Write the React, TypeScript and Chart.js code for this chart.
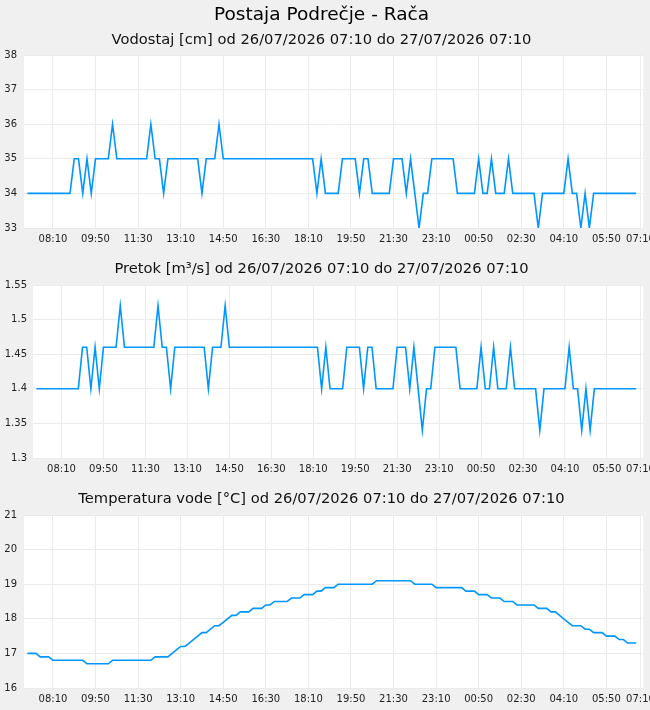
import React, { useEffect, useRef } from 'react';
import { Chart, registerables } from 'chart.js';

Chart.register(...registerables);

const FONT = '"DejaVu Sans", sans-serif';
const MAIN_TITLE = 'Postaja Podrečje - Rača';
const TITLE_LEVEL = 'Vodostaj [cm] od 26/07/2026 07:10 do 27/07/2026 07:10';
const TITLE_FLOW = 'Pretok [m³/s] od 26/07/2026 07:10 do 27/07/2026 07:10';
const TITLE_TEMP = 'Temperatura vode [°C] od 26/07/2026 07:10 do 27/07/2026 07:10';

// sample interval in minutes (samples start at 26/07/2026 07:10)
const STEP_MIN = 10;

// x-axis ticks: minutes after 07:10 and their labels
const xTickMinutes = [60, 160, 260, 360, 460, 560, 660, 760, 860, 960, 1060, 1160, 1260, 1360, 1440];
const xTickLabels = ['08:10', '09:50', '11:30', '13:10', '14:50', '16:30', '18:10', '19:50', '21:30', '23:10', '00:50', '02:30', '04:10', '05:50', '07:10'];

// Vodostaj [cm]
const level = [
  34, 34, 34, 34, 34, 34, 34, 34, 34, 34, 34,
  35, 35, 34, 35, 34,
  35, 35, 35, 35,
  36,
  35, 35, 35, 35, 35, 35, 35, 35,
  36, 35, 35, 34,
  35, 35, 35, 35, 35, 35, 35, 35,
  34, 35, 35, 35, 36,
  35, 35, 35, 35, 35, 35, 35, 35, 35, 35, 35, 35, 35, 35, 35, 35, 35, 35, 35, 35, 35, 35,
  34, 35, 34, 34, 34, 34,
  35, 35, 35, 35, 34, 35, 35,
  34, 34, 34, 34, 34,
  35, 35, 35, 34, 35, 34, 33, 34, 34,
  35, 35, 35, 35, 35, 35,
  34, 34, 34, 34, 34,
  35, 34, 34, 35, 34, 34, 34, 35,
  34, 34, 34, 34, 34, 34,
  33, 34, 34, 34, 34, 34, 34,
  35, 34, 34, 33, 34, 33,
  34, 34, 34, 34, 34, 34, 34, 34, 34, 34, 34,
];

// Pretok [m3/s]
const flow = [
  1.40, 1.40, 1.40, 1.40, 1.40, 1.40, 1.40, 1.40, 1.40, 1.40, 1.40,
  1.46, 1.46, 1.40, 1.46, 1.40,
  1.46, 1.46, 1.46, 1.46,
  1.52,
  1.46, 1.46, 1.46, 1.46, 1.46, 1.46, 1.46, 1.46,
  1.52, 1.46, 1.46, 1.40,
  1.46, 1.46, 1.46, 1.46, 1.46, 1.46, 1.46, 1.46,
  1.40, 1.46, 1.46, 1.46, 1.52,
  1.46, 1.46, 1.46, 1.46, 1.46, 1.46, 1.46, 1.46, 1.46, 1.46, 1.46, 1.46, 1.46, 1.46, 1.46, 1.46, 1.46, 1.46, 1.46, 1.46, 1.46, 1.46,
  1.40, 1.46, 1.40, 1.40, 1.40, 1.40,
  1.46, 1.46, 1.46, 1.46, 1.40, 1.46, 1.46,
  1.40, 1.40, 1.40, 1.40, 1.40,
  1.46, 1.46, 1.46, 1.40, 1.46, 1.40, 1.34, 1.40, 1.40,
  1.46, 1.46, 1.46, 1.46, 1.46, 1.46,
  1.40, 1.40, 1.40, 1.40, 1.40,
  1.46, 1.40, 1.40, 1.46, 1.40, 1.40, 1.40, 1.46,
  1.40, 1.40, 1.40, 1.40, 1.40, 1.40,
  1.34, 1.40, 1.40, 1.40, 1.40, 1.40, 1.40,
  1.46, 1.40, 1.40, 1.34, 1.40, 1.34,
  1.40, 1.40, 1.40, 1.40, 1.40, 1.40, 1.40, 1.40, 1.40, 1.40, 1.40,
];

// Temperatura vode [°C]
const temperature = [
  17.0, 17.0, 17.0,
  16.9, 16.9, 16.9,
  16.8, 16.8, 16.8, 16.8, 16.8, 16.8, 16.8, 16.8,
  16.7, 16.7, 16.7, 16.7, 16.7, 16.7,
  16.8, 16.8, 16.8, 16.8, 16.8, 16.8, 16.8, 16.8, 16.8, 16.8,
  16.9, 16.9, 16.9, 16.9,
  17.0, 17.1, 17.2, 17.2, 17.3, 17.4, 17.5, 17.6, 17.6, 17.7, 17.8, 17.8, 17.9, 18.0,
  18.1, 18.1,
  18.2, 18.2, 18.2,
  18.3, 18.3, 18.3,
  18.4, 18.4,
  18.5, 18.5, 18.5, 18.5,
  18.6, 18.6, 18.6,
  18.7, 18.7, 18.7,
  18.8, 18.8,
  18.9, 18.9, 18.9,
  19.0, 19.0, 19.0, 19.0, 19.0, 19.0, 19.0, 19.0, 19.0,
  19.1, 19.1, 19.1, 19.1, 19.1, 19.1, 19.1, 19.1, 19.1,
  19.0, 19.0, 19.0, 19.0, 19.0,
  18.9, 18.9, 18.9, 18.9, 18.9, 18.9, 18.9,
  18.8, 18.8, 18.8,
  18.7, 18.7, 18.7,
  18.6, 18.6, 18.6,
  18.5, 18.5, 18.5,
  18.4, 18.4, 18.4, 18.4, 18.4,
  18.3, 18.3, 18.3,
  18.2, 18.2,
  18.1, 18.0, 17.9,
  17.8, 17.8, 17.8,
  17.7, 17.7,
  17.6, 17.6, 17.6,
  17.5, 17.5, 17.5,
  17.4, 17.4,
  17.3, 17.3, 17.3,
];

const bgPlugin = {
  id: 'plotBg',
  beforeDraw(chart: any) {
    const { ctx, chartArea } = chart;
    ctx.save();
    ctx.fillStyle = '#ffffff';
    ctx.fillRect(chartArea.left, chartArea.top, chartArea.right - chartArea.left, chartArea.bottom - chartArea.top);
    ctx.restore();
  },
};

type PanelProps = {
  height: number;
  values: number[];
  yMin: number;
  yMax: number;
  yStep: number;
  yWidth: number;
  yPad: number;
  mainTitle?: string;
  subtitle: string;
};

function Panel({ height, values, yMin, yMax, yStep, yWidth, yPad, mainTitle, subtitle }: PanelProps) {
  const ref = useRef<HTMLCanvasElement>(null);
  useEffect(() => {
    const chart = new Chart(ref.current as HTMLCanvasElement, {
      type: 'line',
      data: {
        datasets: [
          {
            data: values.map((v, i) => ({ x: i * STEP_MIN, y: v })),
            borderColor: '#0096ff',
            borderWidth: 1.6,
            pointRadius: 0,
            tension: 0,
            fill: false,
          },
        ],
      },
      options: {
        responsive: false,
        animation: false,
        layout: { padding: { left: 0, right: 7, top: 0, bottom: 0 } },
        plugins: {
          legend: { display: false },
          tooltip: { enabled: false },
          title: {
            display: !!mainTitle,
            text: mainTitle || '',
            color: '#000',
            font: { family: FONT, size: 18.5, weight: 'normal' },
            padding: { top: 3.9, bottom: 0 },
          },
          subtitle: {
            display: true,
            text: subtitle,
            color: '#111',
            font: { family: FONT, size: 14.7, weight: 'normal' },
            padding: mainTitle ? { top: 5.08, bottom: 6.18 } : { top: 10.18, bottom: 7.18 },
          },
        },
        scales: {
          x: {
            type: 'linear',
            min: -8,
            max: 1446,
            afterBuildTicks: (s: any) => {
              s.ticks = xTickMinutes.map((v) => ({ value: v }));
            },
            afterFit: (s: any) => {
              s.height = 22;
              s.paddingLeft = 0;
              s.paddingRight = 0;
            },
            ticks: {
              autoSkip: false,
              maxRotation: 0,
              minRotation: 0,
              padding: 5,
              color: '#222',
              font: { family: FONT, size: 10 },
              callback: (v: any) => xTickLabels[xTickMinutes.indexOf(Number(v))] ?? '',
            },
            grid: { color: '#ebebeb', drawTicks: false },
            border: { display: false },
          },
          y: {
            min: yMin,
            max: yMax,
            afterFit: (s: any) => {
              s.width = yWidth;
              s.paddingTop = 0;
              s.paddingBottom = 0;
            },
            ticks: {
              stepSize: yStep,
              padding: yPad,
              color: '#222',
              font: { family: FONT, size: 10 },
              callback: (v: any) => String(Number(Number(v).toFixed(2))),
            },
            grid: { color: '#ebebeb', drawTicks: false },
            border: { display: false },
          },
        },
      },
      plugins: [bgPlugin],
    } as any);
    return () => chart.destroy();
  }, []);
  return <canvas ref={ref} width={650} height={height} style={{ display: 'block' }} />;
}

export default function App() {
  useEffect(() => {
    document.body.style.margin = '0';
    document.body.style.background = '#f0f0f0';
  }, []);
  return (
    <div style={{ width: 650, height: 710, background: '#f0f0f0', overflow: 'hidden' }}>
      <Panel height={250} values={level} yMin={33} yMax={38} yStep={1} yWidth={24} yPad={7} mainTitle={MAIN_TITLE} subtitle={TITLE_LEVEL} />
      <Panel height={230} values={flow} yMin={1.3} yMax={1.55} yStep={0.05} yWidth={33} yPad={6} subtitle={TITLE_FLOW} />
      <Panel height={230} values={temperature} yMin={16} yMax={21} yStep={1} yWidth={24} yPad={7} subtitle={TITLE_TEMP} />
    </div>
  );
}
